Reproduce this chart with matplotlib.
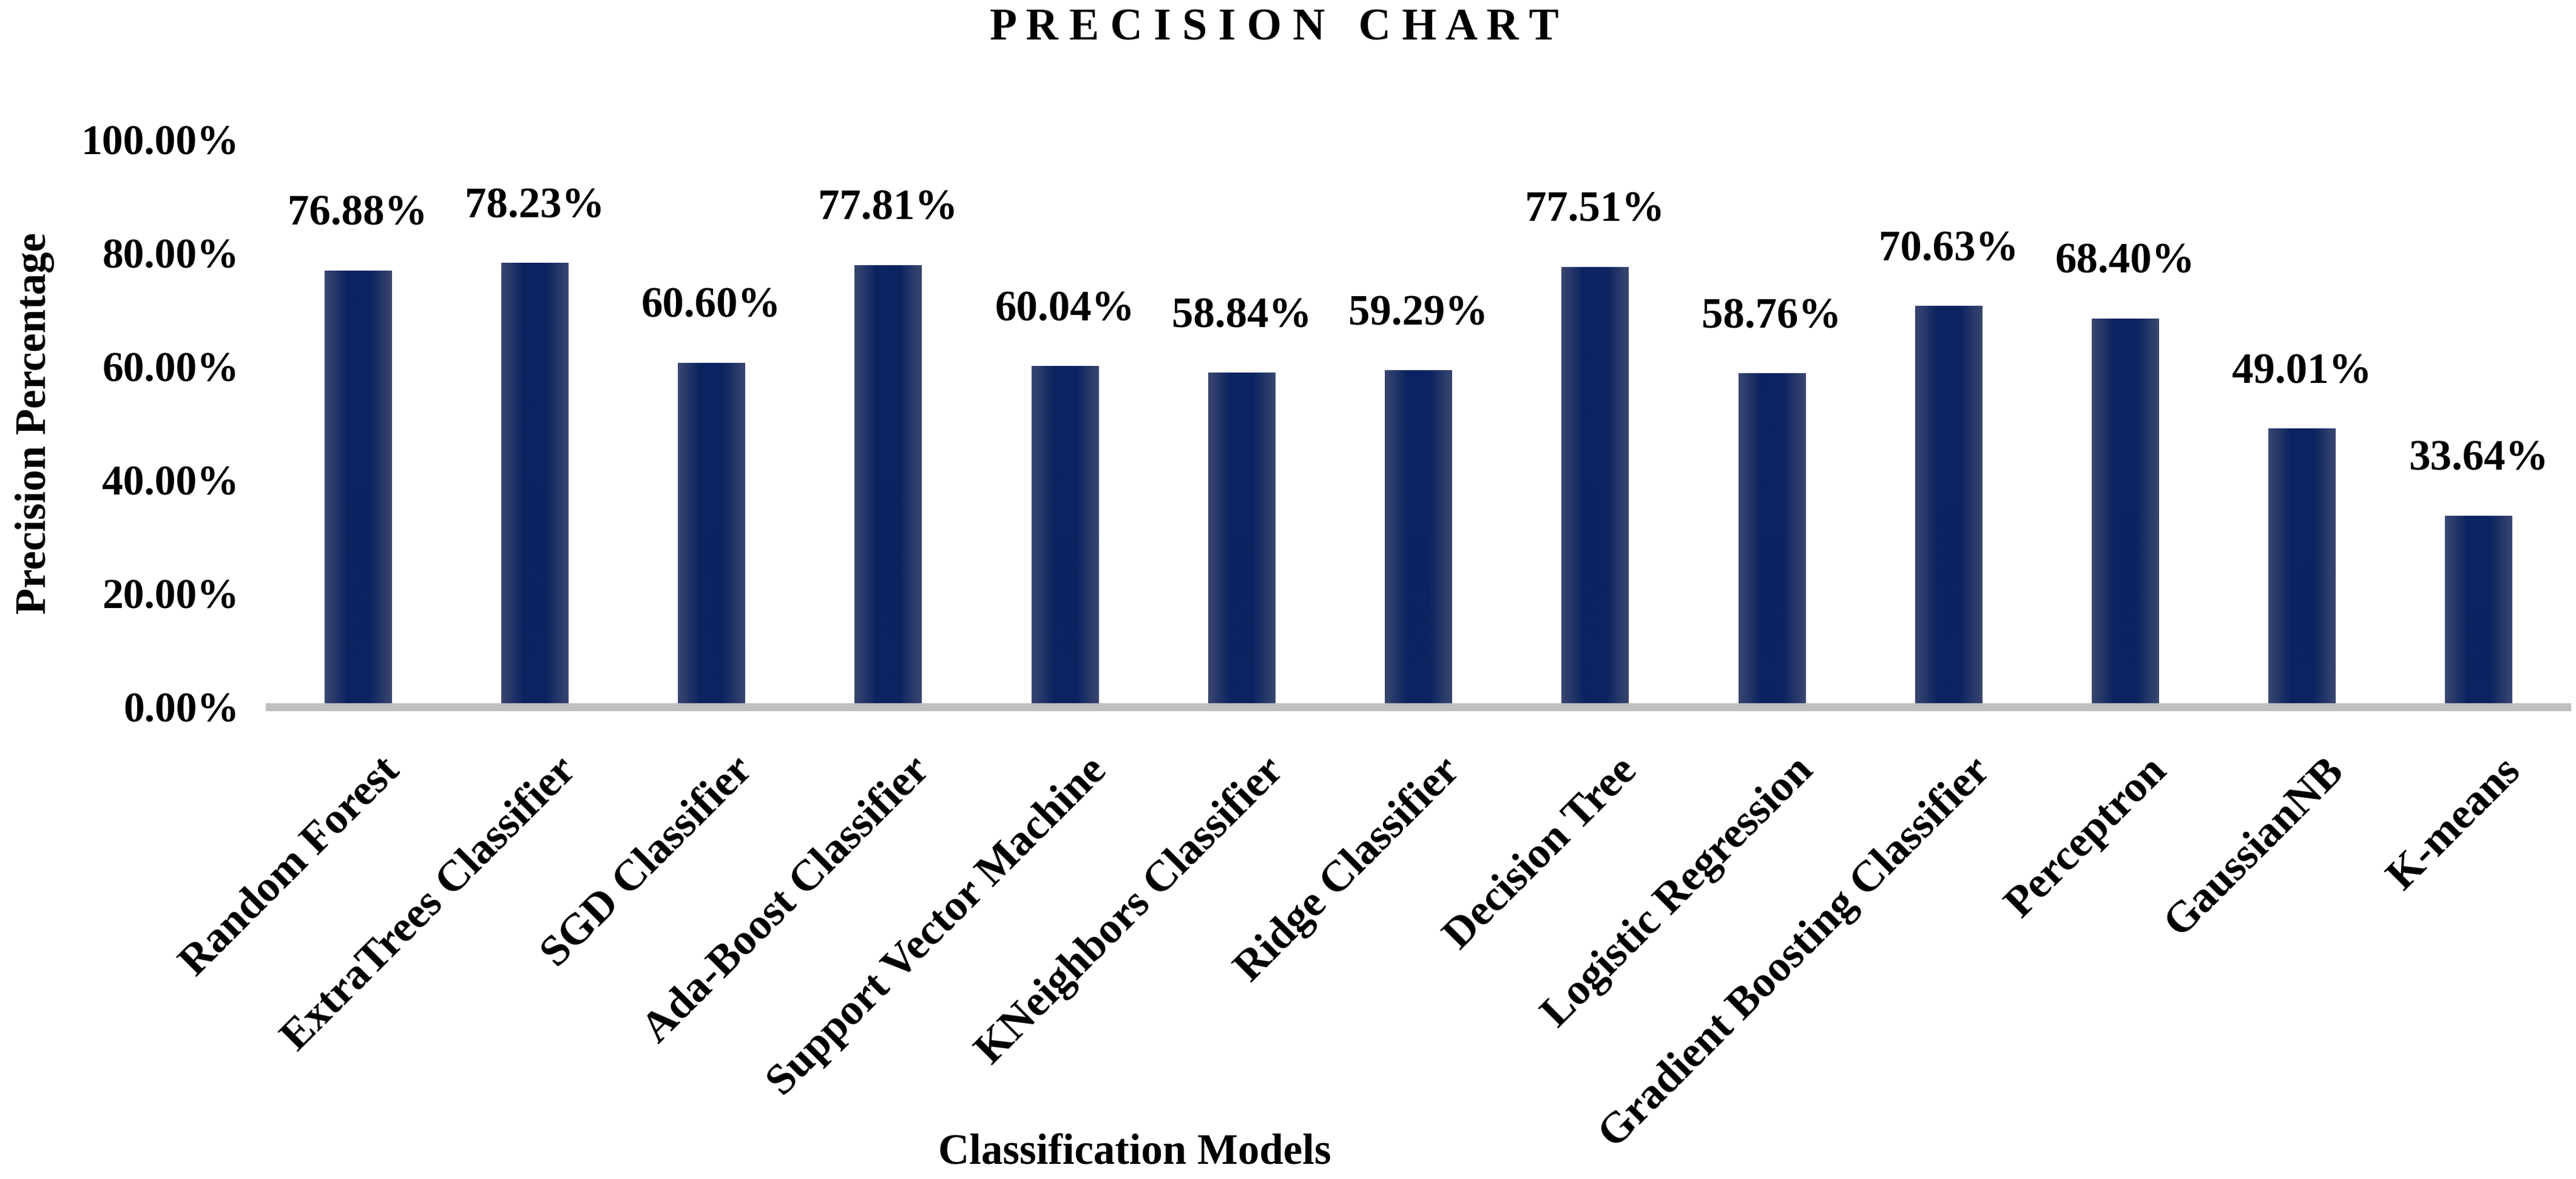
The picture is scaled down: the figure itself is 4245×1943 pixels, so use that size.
import numpy as np
import matplotlib
matplotlib.use("Agg")
import matplotlib.pyplot as plt
import matplotlib.transforms as mtransforms
from matplotlib.colors import LinearSegmentedColormap

# chart data
models = ["Random Forest", "ExtraTrees Classifier", "SGD Classifier",
          "Ada-Boost Classifier", "Support Vector Machine",
          "KNeighbors Classifier", "Ridge Classifier", "Decision Tree",
          "Logistic Regression", "Gradient Boosting Classifier",
          "Perceptron", "GaussianNB", "K-means"]
precision = [76.88, 78.23, 60.60, 77.81, 60.04, 58.84, 59.29,
             77.51, 58.76, 70.63, 68.40, 49.01, 33.64]
yticks = [0, 20, 40, 60, 80, 100]

plt.rcParams['font.family'] = ['Liberation Serif', 'DejaVu Serif']
plt.rcParams['font.weight'] = 'bold'

fig = plt.figure(figsize=(42.45, 19.43), dpi=100)
ax = fig.add_axes([0.1046, 0.4004, 0.8919, 0.4812])

x = np.arange(len(models))
bars = ax.bar(x, precision, width=0.378, color='#0e275f', zorder=2)

# soft shading across each bar, darker in the middle
shade = LinearSegmentedColormap.from_list('shade', ['#3a4670', '#0b2360', '#0b2360', '#3a4670'])
grad = np.linspace(0, 1, 64).reshape(1, -1)
for b in bars:
    ax.imshow(grad, cmap=shade, aspect='auto', zorder=2.1,
              extent=[b.get_x(), b.get_x() + b.get_width(), 0, b.get_height()])

for xi, v in zip(x, precision):
    ax.annotate(f"{v:.2f}%", (xi, v), xytext=(0, 67), textcoords='offset points',
                ha='center', va='center', fontsize=51, fontweight='bold')

ax.set_xlim(-0.5, 12.5)
ax.set_ylim(0, 100)

for s in ['top', 'right', 'left']:
    ax.spines[s].set_visible(False)
ax.spines['bottom'].set_color('#bfbfbf')
ax.spines['bottom'].set_linewidth(9.5)
ax.spines['bottom'].set_zorder(3)

ax.set_yticks(yticks, [f"{t:.2f}%" for t in yticks])
ax.tick_params(axis='y', length=0, pad=36, labelsize=50)
ax.set_xticks(x, models, rotation=45, ha='right', va='top',
              rotation_mode='anchor', fontsize=52, fontweight='bold')
ax.tick_params(axis='x', length=0, pad=0)
shift = mtransforms.ScaledTranslation(0.36, -0.72, fig.dpi_scale_trans)
for lab in ax.get_xticklabels():
    lab.set_transform(lab.get_transform() + shift)

fig.text(2100 / 4245, 1 - 48 / 1943, "P R E C I S I O N   C H A R T",
         ha='center', va='center', fontsize=53, fontweight='bold')
fig.text(58 / 4245, 1 - 697 / 1943, "Precision Percentage", rotation=90,
         ha='center', va='center', fontsize=51, fontweight='bold')
fig.text(1870 / 4245, 1 - 1901 / 1943, "Classification Models",
         ha='center', va='center', fontsize=51, fontweight='bold')

fig.savefig("out.png", dpi=100, facecolor='white')
